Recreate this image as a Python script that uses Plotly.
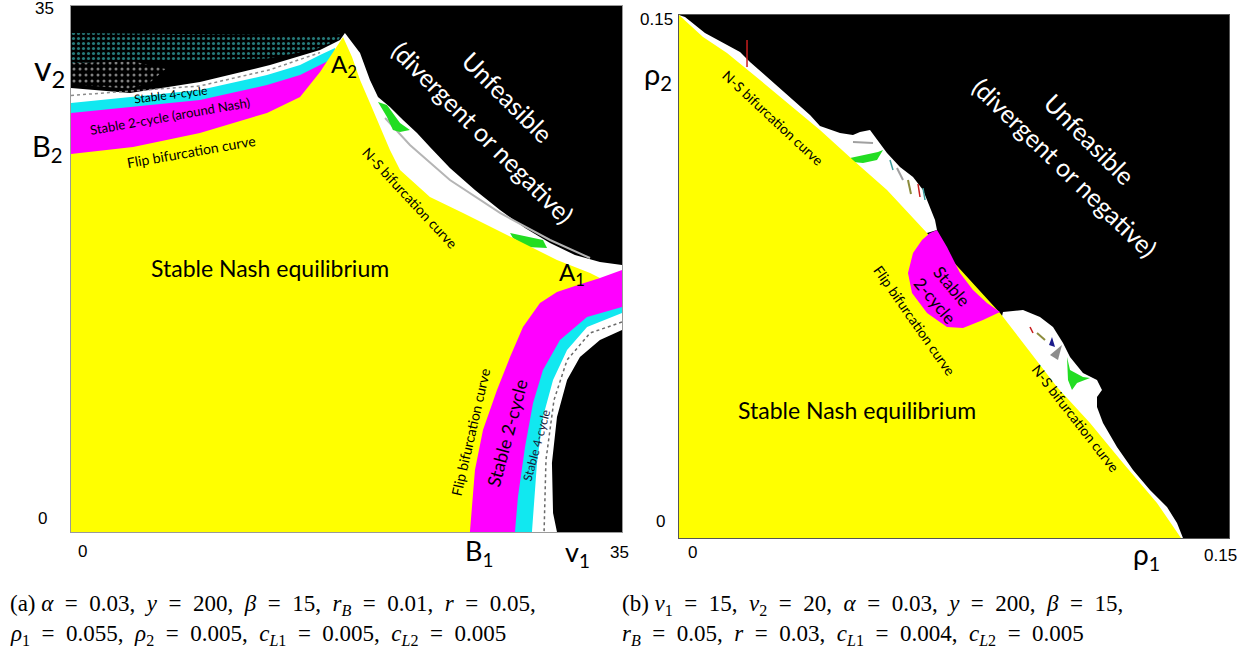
import plotly.graph_objects as go

W, H = 1258, 658

# ---------------- Panel (a): v1 (x) vs v2 (y), both 0..35 ----------------
A_RANGE = [0, 35]

# region that is not "unfeasible" (white base)
A_WHITE_X = [0, 0, 3.75, 8.19, 12.64, 15.82, 17.09, 17.40, 18.36, 18.99, 19.50, 20.26, 21.09, 21.98,
             22.80, 24.07, 25.66, 27.25, 28.84, 30.43, 32.01, 33.60, 35, 35, 33.60, 32.33, 31.51,
             30.87, 30.55, 30.62, 30.87]
A_WHITE_Y = [0, 29.54, 29.21, 29.94, 31.07, 32.07, 32.74, 33.20, 31.87, 30.08, 28.95, 28.28, 27.41,
             26.55, 25.62, 24.22, 22.76, 21.43, 20.23, 19.23, 18.43, 17.97, 17.77, 13.44, 12.78,
             11.64, 10.11, 7.65, 4.59, 1.26, 0]

# speckled (cyan dots) chaotic zone, top-left
A_SPECK_C_X = [0, 6, 12, 16.5, 17.2, 17.0, 15.5, 12.5, 8.19, 4, 0]
A_SPECK_C_Y = [33.2, 33.15, 33.1, 33.05, 33.1, 32.75, 32.1, 31.5, 31.4, 31.3, 31.2]
# speckled (white dots) zone, far left
A_SPECK_W_X = [0, 4, 6, 5, 3.75, 0]
A_SPECK_W_Y = [31.2, 31.3, 30.8, 29.9, 29.5, 29.8]

# stable 4-cycle bands
A_CYAN1_X = [0, 8.19, 12.45, 14.55, 15.82, 16.77, 16.9, 16.9, 0]
A_CYAN1_Y = [28.55, 29.41, 30.41, 31.07, 31.74, 32.21, 31.0, 24, 20]
A_CYAN2_X = [35, 35, 32.78, 31.51, 30.62, 29.98, 29.60, 29.28, 24, 26, 31, 33.6]
A_CYAN2_Y = [16, 14.57, 13.64, 12.11, 10.11, 7.65, 4.59, 0, 0, 14, 16.5, 16.9]

# stable 2-cycle bands
A_MAG1_X = [0, 8.19, 12.45, 14.55, 15.82, 16.45, 16.9, 16.9, 0]
A_MAG1_Y = [27.88, 28.75, 29.74, 30.41, 31.07, 31.41, 30.5, 24, 20]
A_MAG2_X = [33.60, 35, 35, 32.78, 31.06, 29.98, 29.35, 28.84, 28.39, 28.20, 24, 26, 31]
A_MAG2_Y = [16.90, 17.43, 14.97, 14.31, 12.78, 10.78, 8.58, 5.66, 2.33, 0, 0, 14, 16.5]

# quasi-periodic (green) pockets
A_GREEN1_X = [19.50, 20.07, 20.90, 21.53, 20.90, 20.45, 20.07]
A_GREEN1_Y = [28.61, 28.41, 27.21, 26.75, 26.62, 26.75, 27.61]
A_GREEN2_X = [27.89, 29.98, 30.24, 28.96, 28.07]
A_GREEN2_Y = [19.90, 19.43, 18.90, 18.96, 19.56]

# grey curve inside N-S band and dotted traces in white bands
A_GREY_X = [19.95, 21.53, 24.07, 27.25, 30.43, 32.97]
A_GREY_Y = [27.55, 25.75, 23.42, 21.23, 19.43, 18.23]
A_DOT1_X = [0, 8.19, 12.64, 15.82]
A_DOT1_Y = [29.05, 29.68, 30.76, 31.9]
A_DOT2_X = [35, 32.97, 31.51, 30.68, 30.17, 30.05]
A_DOT2_Y = [13.97, 13.24, 11.44, 8.78, 4.79, 0]

# stable Nash equilibrium
A_YEL_X = [0, 0, 3.94, 8.19, 12.45, 14.55, 15.82, 16.64, 17.28, 17.85, 18.36, 18.99, 19.63, 20.26,
           20.90, 22.80, 24.90, 27.06, 29.16, 30.87, 32.97, 33.60, 32.01, 30.87, 29.79, 28.71,
           27.89, 27.06, 26.17, 25.66, 25.34]
A_YEL_Y = [0, 25.15, 25.62, 26.55, 27.88, 28.95, 30.61, 31.94, 32.94, 31.61, 30.08, 28.55, 26.95,
           25.42, 24.09, 22.29, 21.23, 20.10, 18.96, 18.10, 17.23, 16.90, 16.37, 15.97, 15.24,
           13.64, 11.64, 9.45, 6.79, 4.13, 0]

# ---------------- Panel (b): rho1 (x) vs rho2 (y), both 0..0.15 ----------------
B_RANGE = [0, 0.15]

B_YEL_X = [0, 0, 0.00655, 0.01309, 0.02209, 0.03845, 0.04745, 0.05673, 0.06764, 0.08755, 0.10309,
           0.11209, 0.12109, 0.13036, 0.13691]
B_YEL_Y = [0, 0.15, 0.14369, 0.13910, 0.13136, 0.11702, 0.10841, 0.09981, 0.08748, 0.06453,
           0.04331, 0.03298, 0.02151, 0.01004, 0]

B_WHITE1_X = [0, 0.00164, 0.00709, 0.01309, 0.01664, 0.01936, 0.03027, 0.03573, 0.03845, 0.04391,
              0.04745, 0.04936, 0.05209, 0.05345, 0.05673, 0.06027, 0.06382, 0.06655, 0.06845,
              0.06982, 0.07036, 0.06764, 0]
B_WHITE1_Y = [0.15, 0.14943, 0.14484, 0.14140, 0.13939, 0.13652, 0.12620, 0.12132, 0.11817,
              0.11616, 0.11558, 0.11645, 0.11702, 0.11501, 0.11042, 0.10641, 0.10354, 0.09981,
              0.09493, 0.09121, 0.08834, 0.08748, 0.08]
B_WHITE2_X = [0.08836, 0.09382, 0.09845, 0.10200, 0.10473, 0.10664, 0.11018, 0.11400, 0.11536,
              0.11400, 0.11400, 0.11564, 0.11945, 0.12382, 0.12845, 0.13309, 0.13582, 0.13745,
              0.12, 0.085]
B_WHITE2_Y = [0.06482, 0.06539, 0.06338, 0.06052, 0.05593, 0.05191, 0.04732, 0.04532, 0.04245,
              0.04044, 0.03757, 0.03298, 0.02610, 0.01950, 0.01377, 0.00889, 0.00430, 0, 0, 0.05]

B_MAG_X = [0.06845, 0.07036, 0.07309, 0.07664, 0.08018, 0.08400, 0.08755, 0.08291, 0.07745,
           0.07309, 0.06764, 0.06355, 0.06245, 0.06382, 0.06627]
B_MAG_Y = [0.08748, 0.08834, 0.08346, 0.07600, 0.07113, 0.06740, 0.06482, 0.06252, 0.06023,
           0.06052, 0.06453, 0.07027, 0.07600, 0.08174, 0.08547]

B_GREEN1_X = [0.04664, 0.05018, 0.05427, 0.05564, 0.05400, 0.05018, 0.04745]
B_GREEN1_Y = [0.10899, 0.10985, 0.11071, 0.11128, 0.10841, 0.10755, 0.10784]
B_GREEN2_X = [0.10582, 0.10664, 0.11018, 0.11209, 0.10855, 0.10718, 0.10609]
B_GREEN2_Y = [0.05191, 0.04818, 0.04618, 0.04589, 0.04446, 0.04245, 0.04532]
B_GREY_X = [0.10118, 0.10445, 0.10336]
B_GREY_Y = [0.05249, 0.05535, 0.05105]
B_BLUE_X = [0.10173, 0.10255, 0.10091]
B_BLUE_Y = [0.05765, 0.05478, 0.05535]

# small coloured strokes (other periodic windows)
B_RED_X = [0.01855, 0.01855, None, 0.06518, 0.06573, None, 0.09573, 0.09655]
B_RED_Y = [0.14283, 0.13509, None, 0.10153, 0.09780, None, 0.06052, 0.05880]
B_OLIVE_X = [0.06245, 0.06327, None, 0.09764, 0.09982]
B_OLIVE_Y = [0.10268, 0.09866, None, 0.05880, 0.05679]
B_TEAL_X = [0.05755, 0.05836, None, 0.06655, 0.06709]
B_TEAL_Y = [0.10841, 0.10555, None, 0.10038, 0.09694]
B_GREYL_X = [0.04745, 0.05291, None, 0.05945, 0.06109]
B_GREYL_Y = [0.11358, 0.11329, None, 0.10612, 0.10268]

YELLOW = "#ffff00"
MAGENTA = "#ff00ff"
CYAN = "#11e8f0"
GREEN = "#22dd22"

fig = go.Figure()


def region(xs, ys, color, ax="", pattern=None):
    kw = {}
    if pattern is not None:
        kw["fillpattern"] = pattern
    fig.add_trace(go.Scatter(x=xs, y=ys, fill="toself", fillcolor=color, mode="lines",
                             line=dict(width=0, color=color), hoverinfo="skip",
                             showlegend=False, xaxis="x" + ax, yaxis="y" + ax, **kw))


def stroke(xs, ys, color, width, ax="", dash="solid"):
    fig.add_trace(go.Scatter(x=xs, y=ys, mode="lines", line=dict(width=width, color=color, dash=dash),
                             hoverinfo="skip", showlegend=False, xaxis="x" + ax, yaxis="y" + ax))


# panel (a)
region(A_WHITE_X, A_WHITE_Y, "#ffffff")
region(A_SPECK_C_X, A_SPECK_C_Y, "#000000",
       pattern=dict(shape=".", fgcolor="#4af2f2", bgcolor="#000000", size=5, solidity=0.3))
region(A_SPECK_W_X, A_SPECK_W_Y, "#000000",
       pattern=dict(shape=".", fgcolor="#ffffff", bgcolor="#000000", size=6, solidity=0.2))
region(A_CYAN1_X, A_CYAN1_Y, CYAN)
region(A_CYAN2_X, A_CYAN2_Y, CYAN)
region(A_MAG1_X, A_MAG1_Y, MAGENTA)
region(A_MAG2_X, A_MAG2_Y, MAGENTA)
stroke(A_GREY_X, A_GREY_Y, "#b5b5b5", 2)
stroke(A_DOT1_X, A_DOT1_Y, "#8a8a8a", 1.5, dash="dot")
stroke(A_DOT2_X, A_DOT2_Y, "#6a6a6a", 1.5, dash="dot")
region(A_GREEN1_X, A_GREEN1_Y, GREEN)
region(A_GREEN2_X, A_GREEN2_Y, GREEN)
region(A_YEL_X, A_YEL_Y, YELLOW)

# panel (b)
region(B_WHITE1_X, B_WHITE1_Y, "#ffffff", "2")
region(B_WHITE2_X, B_WHITE2_Y, "#ffffff", "2")
region(B_GREEN1_X, B_GREEN1_Y, GREEN, "2")
region(B_GREEN2_X, B_GREEN2_Y, GREEN, "2")
region(B_GREY_X, B_GREY_Y, "#8c8c8c", "2")
region(B_BLUE_X, B_BLUE_Y, "#1a1a8c", "2")
stroke(B_RED_X, B_RED_Y, "#c81e1e", 1.5, "2")
stroke(B_OLIVE_X, B_OLIVE_Y, "#8c8c3c", 2, "2")
stroke(B_TEAL_X, B_TEAL_Y, "#3c9c9c", 1.5, "2")
stroke(B_GREYL_X, B_GREYL_Y, "#a0a0a0", 2, "2")
region(B_YEL_X, B_YEL_Y, YELLOW, "2")
region(B_MAG_X, B_MAG_Y, MAGENTA, "2")

# ---------------- text ----------------
SANS = "Lato"
TICK = "Liberation Sans"
SERIF = "Liberation Serif"


def P(px, py):
    return px / W, 1 - py / H


def note(text, px, py, size, family=SANS, color="#000000", angle=0, xanchor="center"):
    x, y = P(px, py)
    fig.add_annotation(x=x, y=y, xref="paper", yref="paper", text=text, showarrow=False,
                       textangle=angle, xanchor=xanchor, yanchor="middle",
                       font=dict(family=family, size=size, color=color))


# axis labels / ticks
note("35", 44, 8, 17, TICK)
note("0", 42, 518, 17, TICK)
note("0", 82, 551, 17, TICK)
note("35", 619, 552, 17, TICK)
note("v<sub>2</sub>", 49, 70, 34)
note("B<sub>2</sub>", 47, 148, 29)
note("A<sub>2</sub>", 344, 66, 24)
note("A<sub>1</sub>", 572, 274, 24)
note("B<sub>1</sub>", 479, 552, 27)
note("v<sub>1</sub>", 577, 553, 27)

note("0.15", 656, 19, 17, TICK)
note("ρ<sub>2</sub>", 658, 76, 29)
note("0", 660, 521, 17, TICK)
note("0", 692, 552, 17, TICK)
note("ρ<sub>1</sub>", 1146, 556, 28)
note("0.15", 1220, 555, 17, TICK)

# panel (a) labels
note("Stable Nash equilibrium", 270, 268, 23)
note("Unfeasible", 508, 97, 25, color="#ffffff", angle=45)
note("(divergent or negative)", 483, 132, 25, color="#ffffff", angle=45)
note("Stable 4-cycle", 171, 95, 12, angle=-7)
note("Stable 2-cycle (around Nash)", 170, 116, 13, angle=-10)
note("Flip bifurcation curve", 191, 151, 14, angle=-10)
note("N-S bifurcation curve", 410, 197, 14, angle=47)
note("Flip bifurcation curve", 470, 432, 14, angle=-77)
note("Stable 2-cycle", 507, 433, 18, angle=-75)
note("Stable 4-cycle", 536, 445, 12, color="#1a1a3a", angle=-75)

# panel (b) labels
note("Unfeasible", 1090, 139, 25, color="#ffffff", angle=45)
note("(divergent or negative)", 1065, 167, 25, color="#ffffff", angle=44)
note("N-S bifurcation curve", 773, 117, 14, angle=43)
note("Flip bifurcation curve", 915, 320, 14, angle=55)
note("Stable<br>2-cycle", 944, 293, 17, angle=50)
note("N-S bifurcation curve", 1075, 418, 14, angle=52)
note("Stable Nash equilibrium", 857, 410, 23)

# captions (en spaces mimic TeX math spacing)
CAP = 23
S = "\u2002"
EQ = S + "=" + S
CAP_A1 = ("(a) <i>α</i>" + EQ + "0.03," + S + "<i>y</i>" + EQ + "200," + S + "<i>β</i>" + EQ + "15," + S
          + "<i>r<sub>B</sub></i>" + EQ + "0.01," + S + "<i>r</i>" + EQ + "0.05,")
CAP_A2 = ("<i>ρ</i><sub>1</sub>" + EQ + "0.055," + S + "<i>ρ</i><sub>2</sub>" + EQ + "0.005," + S
          + "<i>c</i><sub><i>L</i>1</sub>" + EQ + "0.005," + S + "<i>c</i><sub><i>L</i>2</sub>" + EQ + "0.005")
CAP_B1 = ("(b) <i>v</i><sub>1</sub>" + EQ + "15," + S + "<i>v</i><sub>2</sub>" + EQ + "20," + S
          + "<i>α</i>" + EQ + "0.03," + S + "<i>y</i>" + EQ + "200," + S + "<i>β</i>" + EQ + "15,")
CAP_B2 = ("<i>r<sub>B</sub></i>" + EQ + "0.05," + S + "<i>r</i>" + EQ + "0.03," + S
          + "<i>c</i><sub><i>L</i>1</sub>" + EQ + "0.004," + S + "<i>c</i><sub><i>L</i>2</sub>" + EQ + "0.005")
note(CAP_A1, 8, 605, CAP, SERIF, xanchor="left")
note(CAP_A2, 8, 635, CAP, SERIF, xanchor="left")
note(CAP_B1, 620, 605, CAP, SERIF, xanchor="left")
note(CAP_B2, 620, 635, CAP, SERIF, xanchor="left")

axis_common = dict(showticklabels=False, ticks="", showgrid=False, zeroline=False,
                   showline=True, mirror=True, linewidth=1, fixedrange=True)

fig.update_layout(
    width=W, height=H, margin=dict(l=0, r=0, t=0, b=0),
    paper_bgcolor="#ffffff", plot_bgcolor="#000000", showlegend=False,
    xaxis=dict(domain=[71 / W, 622 / W], range=A_RANGE, anchor="y", linecolor="#9a9a9a", **axis_common),
    yaxis=dict(domain=[1 - 532 / H, 1 - 6 / H], range=A_RANGE, anchor="x", linecolor="#9a9a9a", **axis_common),
    xaxis2=dict(domain=[679 / W, 1229 / W], range=B_RANGE, anchor="y2", linecolor="#555555", **axis_common),
    yaxis2=dict(domain=[1 - 538 / H, 1 - 15 / H], range=B_RANGE, anchor="x2", linecolor="#555555", **axis_common),
)

fig.write_html("out.html", config={"displayModeBar": False},
               post_script="document.body.style.margin='0px';document.body.style.overflow='hidden';")
